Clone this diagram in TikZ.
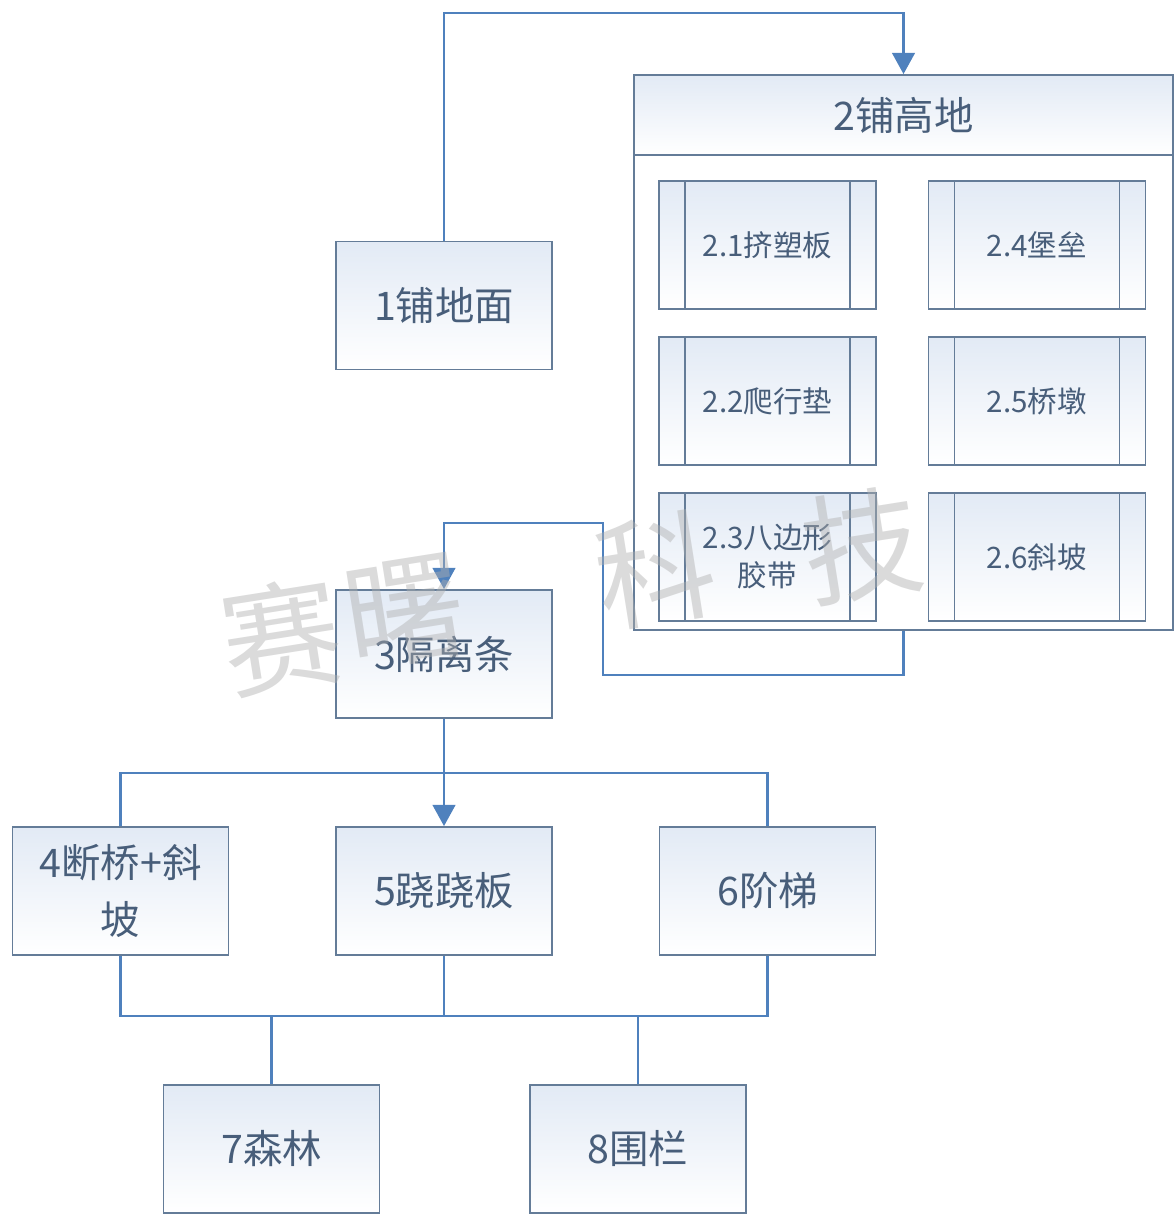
\documentclass[tikz,border=0pt]{standalone}
\usepackage{fontspec}
\setmainfont{Noto Sans CJK SC}
\usetikzlibrary{arrows.meta}

\definecolor{flowline}{RGB}{79,129,189}
\definecolor{boxline}{RGB}{100,124,152}
\definecolor{boxtext}{RGB}{72,94,122}
\definecolor{boxtop}{RGB}{226,234,245}
\definecolor{markgray}{RGB}{175,175,175}

\tikzset{
  task/.style={draw=boxline, line width=1.3pt, top color=boxtop, bottom color=white,
    text=boxtext, minimum width=5.4cm, minimum height=3.2cm, inner sep=0pt,
    align=center, font=\fontsize{28}{40}\selectfont},
  subtask/.style={task, minimum width=5.425cm, font=\fontsize{21}{27}\selectfont,
    path picture={
      \draw[boxline, line width=1.3pt]
        ([xshift=0.65cm]path picture bounding box.north west) -- ([xshift=0.65cm]path picture bounding box.south west)
        ([xshift=-0.65cm]path picture bounding box.north east) -- ([xshift=-0.65cm]path picture bounding box.south east);}},
  flow/.style={draw=flowline, line width=1.8pt},
  arr/.style={flow, -{Triangle[width=16pt,length=15pt]}},
  wmark/.style={text=markgray, text opacity=0.45, rotate=9, font=\fontsize{85}{85}\selectfont}
}

\begin{document}
\begin{tikzpicture}[x=0.025cm, y=-0.025cm]

\useasboundingbox (0,0) rectangle (1175,1215);

% container for step 2
\node[task, minimum width=13.475cm, minimum height=11.875cm, top color=white] (n2b) at (903.5,392.5) {};
\node[task, minimum width=13.475cm, minimum height=2cm] (n2) at (903.5,115) {2铺高地};

\node[subtask] (n21) at (767.5,245) {2.1挤塑板};
\node[subtask] (n22) at (767.5,401) {2.2爬行垫};
\node[subtask] (n23) at (767.5,557) {2.3八边形\\胶带};
\node[subtask] (n24) at (1037,245) {2.4堡垒};
\node[subtask] (n25) at (1037,401) {2.5桥墩};
\node[subtask] (n26) at (1037,557) {2.6斜坡};

% main steps
\node[task] (n1) at (444,305.5) {1铺地面};
\node[task] (n3) at (444,654) {3隔离条};
\node[task] (n4) at (120.5,891) {4断桥+斜\\坡};
\node[task] (n5) at (444,891) {5跷跷板};
\node[task] (n6) at (767.5,891) {6阶梯};
\node[task] (n7) at (271.5,1149) {7森林};
\node[task] (n8) at (638,1149) {8围栏};

% connectors
\coordinate (topline) at (0,13);
\coordinate (backlow) at (603,675);
\coordinate (backhigh) at (603,523);
\coordinate (split) at (0,773);
\coordinate (join) at (0,1016);

\draw[arr] (n1.north) -- (n1.north |- topline) -| (n2.north);
\draw[arr] (n2b.south) |- (backlow) -- (backhigh) -| (n3.north);
\draw[arr] (n3.south) -- (n5.north);
\draw[flow] (n4.north) |- (n6.north |- split) -- (n6.north);
\draw[flow] (n4.south) |- (n6.south |- join) -- (n6.south);
\draw[flow] (n5.south) -- (n5.south |- join);
\draw[flow] (n7.north |- join) -- (n7.north);
\draw[flow] (n8.north |- join) -- (n8.north);

% watermark
\node[wmark] (wm1) at (281,637) {赛};
\node[wmark] (wm2) at (405,612) {曙};
\node[wmark] (wm3) at (655,570) {科};
\node[wmark] (wm4) at (862,545) {技};

\end{tikzpicture}
\end{document}
